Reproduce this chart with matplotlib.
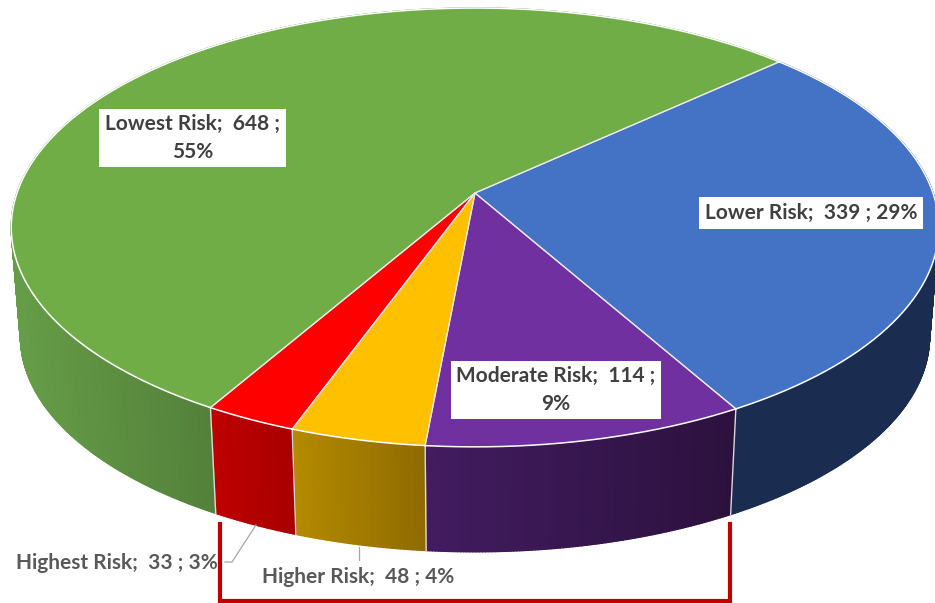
import numpy as np
import matplotlib
matplotlib.use('Agg')
import matplotlib.pyplot as plt
from matplotlib.collections import PolyCollection
from matplotlib.colors import to_rgb

# clockwise from the green/blue boundary
names = ['Lower Risk', 'Moderate Risk', 'Higher Risk', 'Highest Risk', 'Lowest Risk']
counts = [339, 114, 48, 33, 648]
percents = [29, 9, 4, 3, 55]
top_colors = ['#4472C4', '#7030A0', '#FFC000', '#FF0000', '#70AD47']
side_left = ['#1A2C50', '#421C60', '#B48A00', '#BE0000', '#659C47']
side_right = ['#1A2C50', '#2C113E', '#8F6B00', '#A80000', '#53803A']

start_angle = 42.7
cx, cy = 475, 193  # pie centre on the canvas, pixels
rx, ry = 458, 214
persp = 0.157  # perspective of the tilted disc
depth = 110
shrink = 0.98  # bottom face is a bit further away


def project(theta, scale=1.0, drop=0):
    t = np.radians(theta)
    w = 1 + persp * np.sin(t)
    return cx + scale * rx * np.cos(t) / w, cy + drop - scale * ry * np.sin(t) / w


fig = plt.figure(figsize=(9.35, 6.03), dpi=100)
ax = fig.add_axes([0, 0, 1, 1])
ax.set_xlim(0, 935)
ax.set_ylim(603, 0)
ax.axis('off')

sweep = 360 * np.array(counts) / sum(counts)
edges = start_angle - np.concatenate([[0], np.cumsum(sweep)])

# side walls first, the top faces cover whatever is behind
for i in range(len(counts)):
    th = np.linspace(edges[i], edges[i + 1], max(int(sweep[i] * 3), 12))
    x1, y1 = project(th)
    x2, y2 = project(th, shrink, depth)
    quads = []
    cols = []
    xmin, xmax = x1.min(), x1.max()
    if names[i] == 'Lowest Risk':
        xmin, xmax = 20, 212  # only the front part shows
    c0 = np.array(to_rgb(side_left[i]))
    c1 = np.array(to_rgb(side_right[i]))
    for j in range(len(th) - 1):
        quads.append([(x1[j], y1[j]), (x1[j + 1], y1[j + 1]), (x2[j + 1], y2[j + 1]), (x2[j], y2[j])])
        f = np.clip(((x1[j] + x1[j + 1]) / 2 - xmin) / (xmax - xmin), 0, 1)
        cols.append(c0 + (c1 - c0) * f)
    ax.add_collection(PolyCollection(quads, facecolors=cols, edgecolors=cols, linewidths=1.0, zorder=1))

# seams between the wall pieces
for a in edges[1:5]:
    x1, y1 = project(a)
    x2, y2 = project(a, shrink, depth)
    ax.plot([x1, x2], [y1, y2], color='#D9D9D9', lw=1, zorder=2)

# top faces
for i in range(len(counts)):
    th = np.linspace(edges[i], edges[i + 1], 200)
    x, y = project(th)
    ax.fill(np.r_[cx, x], np.r_[cy, y], color=top_colors[i], lw=0, zorder=3)
    ax.plot(np.r_[x[0], cx, x[-1]], np.r_[y[0], cy, y[-1]], color='#E8E8E8', lw=0.9, zorder=4)
    ax.plot(x, y, color='white', lw=1.1, zorder=4)

# leader lines and red bracket
ax.plot([225, 232, 256], [562, 562, 525], color='#A6A6A6', lw=0.9, zorder=5)
ax.plot([359, 359], [547, 560], color='#A6A6A6', lw=0.9, zorder=5)
ax.plot([219.5, 219.5, 729.5, 729.5], [524, 600.5, 600.5, 524], color='#C00000', lw=3, solid_joinstyle='miter', zorder=6)


def label(i, x, y, split, boxed):
    txt = names[i] + ';  ' + str(counts[i]) + ' ;' + ('\n' if split else ' ') + str(percents[i]) + '%'
    kw = {}
    if boxed:
        kw['bbox'] = dict(facecolor='white', edgecolor='none', boxstyle='square,pad=0.28')
    ax.text(x, y, txt, ha='center', va='center', ma='center', family='Lato', weight='bold',
            fontsize=15, linespacing=1.45, color='#404040' if boxed else '#595959', zorder=7, **kw)


label(4, 192.5, 138, True, True)
label(0, 811, 213, False, True)
label(1, 556, 390, True, True)
label(3, 117, 563, False, False)
label(2, 358, 577, False, False)

fig.savefig('out.png', dpi=100)
